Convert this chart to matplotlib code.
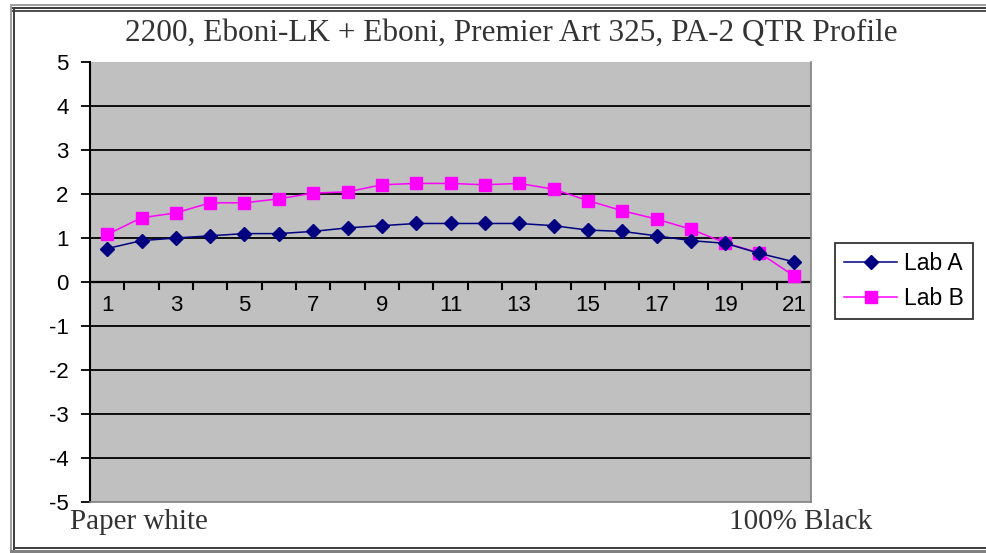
import matplotlib
matplotlib.use("Agg")
import matplotlib.pyplot as plt
from matplotlib.lines import Line2D
from matplotlib.patches import Rectangle
import numpy as np

categories = list(range(1, 22))
lab_a = [0.76, 0.94, 1.00, 1.05, 1.10, 1.10, 1.15, 1.23, 1.28, 1.33, 1.33,
         1.33, 1.33, 1.28, 1.18, 1.15, 1.05, 0.94, 0.88, 0.65, 0.46]
lab_b = [1.08, 1.46, 1.57, 1.80, 1.80, 1.89, 2.02, 2.05, 2.21, 2.24, 2.24,
         2.21, 2.24, 2.11, 1.85, 1.62, 1.43, 1.20, 0.89, 0.66, 0.14]
yticks = list(range(-5, 6))
title = "2200, Eboni-LK + Eboni, Premier Art 325, PA-2 QTR Profile"

W, H = 986, 553
fig = plt.figure(figsize=(W / 100, H / 100), dpi=100)
fig.patch.set_facecolor("white")

def fx(px):
    return px / W

def fy(py):
    return 1 - py / H

# outer frame (double lines)
for (x0, y0, x1, y1, c) in [
    (10, 4, 986, 6, "#a0a0a0"), (10, 7, 986, 9, "#404040"), (10, 10, 986, 12, "#505050"),
    (10, 4, 12, 553, "#a0a0a0"), (13, 7, 15, 553, "#404040"),
    (13, 547, 986, 549, "#404040"), (10, 550, 986, 553, "#808080"),
]:
    fig.add_artist(Rectangle((fx(x0), fy(y1)), fx(x1 - x0), (y1 - y0) / H,
                             transform=fig.transFigure, color=c, lw=0))

left, right, top, bottom = 90, 811, 62, 502
ax = fig.add_axes([fx(left), fy(bottom), fx(right - left), (bottom - top) / H])
ax.set_facecolor("#c0c0c0")
ax.set_xlim(0.5, 21.5)
ax.set_ylim(-5, 5)

for yv in yticks:
    if yv not in (-5, 5, 0):
        ax.axhline(yv, color="black", lw=1.3, zorder=1)
ax.axhline(0, color="black", lw=1.6, zorder=2)

x = np.array(categories)
ax.plot(x, lab_a, color="#000080", marker="D", markersize=7, lw=1.1,
        label="Lab A", zorder=4)
ax.plot(x, lab_b, color="#ff00ff", marker="s", markersize=8, lw=1.1,
        label="Lab B", zorder=3)

# category tick marks on the zero axis
for b in np.arange(1.5, 21.5, 1.0):
    ax.plot([b, b], [0, -0.17], color="black", lw=1.5, zorder=2, clip_on=False)
for c in categories:
    if c % 2 == 1:
        ax.text(c, -0.3, str(c), ha="center", va="top", fontsize=16,
                family="Liberation Sans", zorder=5)

ax.set_xticks([])
ax.set_yticks(yticks)
ax.set_yticklabels([str(v) for v in yticks], fontsize=16, family="Liberation Sans")
ax.tick_params(axis="y", direction="out", length=6.5, width=1.3, pad=9)
ax.spines["left"].set_color("black")
ax.spines["left"].set_linewidth(1.5)
for s in ("right", "bottom", "top"):
    ax.spines[s].set_color("#808080")
    ax.spines[s].set_linewidth(1.2)
ax.spines["top"].set_visible(False)

fig.text(fx(511), fy(33), title, ha="center", va="center",
         fontsize=22.5, family="Liberation Serif", color="#333333")
fig.text(fx(70), fy(522), "Paper white", ha="left", va="center",
         fontsize=21, family="Liberation Serif", color="#333333")
fig.text(fx(729), fy(522), "100% Black", ha="left", va="center",
         fontsize=21, family="Liberation Serif", color="#333333")

handles = [
    Line2D([], [], color="#000080", marker="D", markersize=7, lw=1.1),
    Line2D([], [], color="#ff00ff", marker="s", markersize=8, lw=1.1),
]
leg = fig.legend(handles, ["Lab A", "Lab B"], loc="center",
                 bbox_to_anchor=(fx(904), fy(281)), frameon=True,
                 fancybox=False, edgecolor="black",
                 prop={"family": "Liberation Sans", "size": 16.5},
                 handlelength=2.3, borderpad=0.4, labelspacing=0.55,
                 handletextpad=0.3, borderaxespad=0)
leg.get_frame().set_linewidth(1.3)

fig.savefig("out.png", dpi=100, facecolor="white")
